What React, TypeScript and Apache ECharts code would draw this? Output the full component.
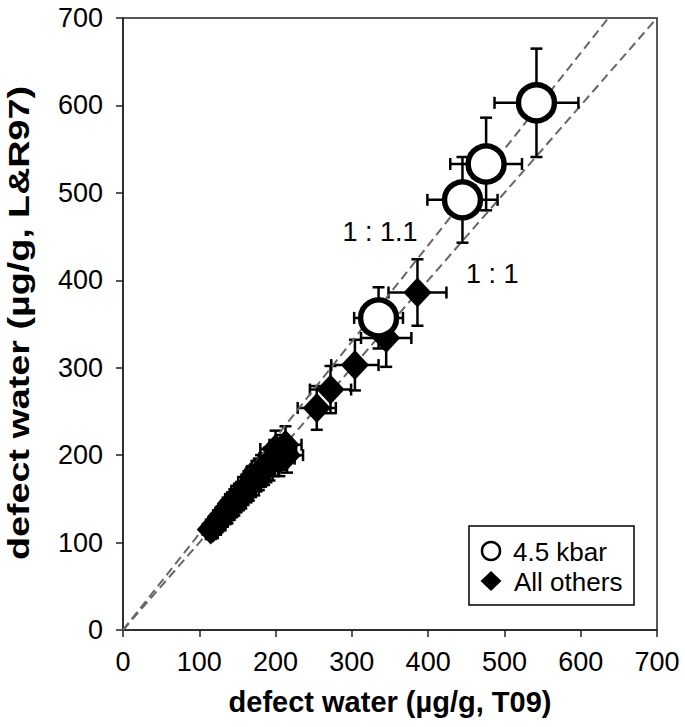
import React, { useEffect, useRef } from "react";
import * as echarts from "echarts";

// 4.5 kbar (open circles)
const kbarX = [542, 476, 445, 335];
const kbarY = [603, 533, 492, 357];
const kbarXErr = [55, 47, 46, 32];
const kbarYErr = [62, 53, 49, 35];

// All others (diamonds)
const otherX = [386, 345, 304, 272, 254, 213, 207, 200, 215, 205, 198, 192, 188, 185, 181, 178, 175, 172, 168, 165, 162, 158, 155, 152, 149, 146, 143, 140, 137, 134, 131, 128, 125, 122, 118, 115];
const otherY = [386, 334, 303, 275, 254, 212, 203, 207, 200, 196, 195, 190, 188, 184, 182, 178, 176, 171, 169, 164, 162, 159, 154, 152, 150, 146, 143, 140, 136, 134, 131, 127, 125, 121, 117, 115];
const otherXErr = [38, 33, 31, 27, 25, 21, 20, 20, 21, 20, 20, 19, 19, 18, 18, 18, 17, 17, 17, 16, 16, 16, 15, 15, 15, 15, 14, 14, 14, 13, 13, 13, 12, 12, 12, 11];
const otherYErr = [38, 33, 29, 27, 25, 21, 20, 21, 20, 20, 19, 19, 19, 18, 18, 18, 17, 17, 17, 16, 16, 16, 15, 15, 15, 15, 14, 14, 14, 13, 13, 13, 12, 12, 12, 11];

// reference lines
const line11 = [[0, 0], [700, 700]];
const line111 = [[0, 0], [636.36, 700]];

// annotations
const annotations = [[337, 455, "1 : 1.1"], [484, 407, "1 : 1"]];

const legendNames = ["4.5 kbar", "All others"];
const xTitle = "defect water (µg/g, T09)";
const yTitle = "defect water (µg/g, L&R97)";

const FONT = "'Liberation Sans', Arial, sans-serif";

function errRender(params: any, api: any) {
  const x = api.value(0);
  const y = api.value(1);
  const xe = api.value(2);
  const ye = api.value(3);
  const l = api.coord([x - xe, y]);
  const r = api.coord([x + xe, y]);
  const t = api.coord([x, y + ye]);
  const b = api.coord([x, y - ye]);
  const cap = 6;
  const style = { stroke: "#000", lineWidth: 2.5 };
  return {
    type: "group",
    children: [
      { type: "line", shape: { x1: l[0], y1: l[1], x2: r[0], y2: r[1] }, style },
      { type: "line", shape: { x1: l[0], y1: l[1] - cap, x2: l[0], y2: l[1] + cap }, style },
      { type: "line", shape: { x1: r[0], y1: r[1] - cap, x2: r[0], y2: r[1] + cap }, style },
      { type: "line", shape: { x1: t[0], y1: t[1], x2: b[0], y2: b[1] }, style },
      { type: "line", shape: { x1: t[0] - cap, y1: t[1], x2: t[0] + cap, y2: t[1] }, style },
      { type: "line", shape: { x1: b[0] - cap, y1: b[1], x2: b[0] + cap, y2: b[1] }, style },
    ],
  };
}

export default function App() {
  const ref = useRef<HTMLDivElement>(null);
  useEffect(() => {
    if (!ref.current) return;
    const chart = echarts.init(ref.current, null, { renderer: "svg" });
    const kbarPts = kbarX.map((x, i) => [x, kbarY[i]]);
    const otherPts = otherX.map((x, i) => [x, otherY[i]]);
    const kbarErr = kbarX.map((x, i) => [x, kbarY[i], kbarXErr[i], kbarYErr[i]]);
    const otherErr = otherX.map((x, i) => [x, otherY[i], otherXErr[i], otherYErr[i]]);
    const axisCommon = {
      type: "value",
      min: 0,
      max: 700,
      interval: 100,
      nameLocation: "middle",
      nameTextStyle: { fontFamily: FONT, fontSize: 29, fontWeight: "bold", color: "#000" },
      axisLine: { show: true, lineStyle: { color: "#222", width: 1.5 } },
      axisTick: { show: true, inside: false, length: 7, lineStyle: { color: "#222", width: 1.5 } },
      axisLabel: { fontFamily: FONT, fontSize: 27, color: "#000" },
      splitLine: { show: false },
    };
    const legendFont = { fontFamily: FONT, fontSize: 26, fill: "#000" };
    chart.setOption({
      animation: false,
      grid: { left: 123, right: 28, top: 18, bottom: 97, show: true, borderColor: "#222", borderWidth: 1.5 },
      xAxis: { ...axisCommon, name: xTitle, nameGap: 57, axisLabel: { ...axisCommon.axisLabel, margin: 18 } },
      yAxis: { ...axisCommon, axisLabel: { ...axisCommon.axisLabel, margin: 20 } },
      graphic: [
        {
          type: "text",
          x: 19,
          y: 323,
          rotation: Math.PI / 2,
          scaleX: 1.3,
          style: { fontFamily: FONT, fontSize: 29, fontWeight: "bold", fill: "#000", text: yTitle, align: "center", verticalAlign: "middle" },
        },
        { type: "rect", shape: { x: 469, y: 526, width: 165, height: 79 }, style: { fill: "#fff", stroke: "#000", lineWidth: 1.5 }, z: 100 },
        { type: "circle", shape: { cx: 491, cy: 551, r: 9 }, style: { fill: "#fff", stroke: "#000", lineWidth: 2.5 }, z: 101 },
        { type: "polygon", shape: { points: [[491, 571], [501.5, 581], [491, 591], [480.5, 581]] }, style: { fill: "#000" }, z: 101 },
        { type: "text", x: 513, y: 552, style: { ...legendFont, text: legendNames[0], verticalAlign: "middle" }, z: 101 },
        { type: "text", x: 514, y: 582, style: { ...legendFont, text: legendNames[1], verticalAlign: "middle" }, z: 101 },
      ],
      series: [
        {
          type: "line",
          data: line11,
          symbol: "none",
          silent: true,
          lineStyle: { color: "#666", width: 2, type: [9, 5] },
        },
        {
          type: "line",
          data: line111,
          symbol: "none",
          silent: true,
          lineStyle: { color: "#666", width: 2, type: [9, 5] },
        },
        {
          type: "scatter",
          data: annotations,
          symbolSize: 0,
          silent: true,
          itemStyle: { opacity: 1 },
          label: {
            show: true,
            position: "inside",
            formatter: (p: any) => p.value[2],
            fontFamily: FONT,
            fontSize: 27,
            color: "#000",
          },
        },
        { type: "custom", name: legendNames[1], renderItem: errRender, data: otherErr, z: 3 },
        {
          type: "scatter",
          name: legendNames[1],
          data: otherPts,
          symbol: "diamond",
          symbolSize: [28, 30],
          itemStyle: { color: "#000", opacity: 1 },
          z: 4,
        },
        { type: "custom", name: legendNames[0], renderItem: errRender, data: kbarErr, z: 5 },
        {
          type: "scatter",
          name: legendNames[0],
          data: kbarPts,
          symbol: "circle",
          symbolSize: 36,
          itemStyle: { color: "#fff", borderColor: "#000", borderWidth: 5.5, opacity: 1 },
          z: 6,
        },
      ],
    });
    return () => chart.dispose();
  }, []);
  return <div ref={ref} style={{ position: "fixed", left: 0, top: 0, width: 685, height: 727, background: "#fff" }} />;
}
